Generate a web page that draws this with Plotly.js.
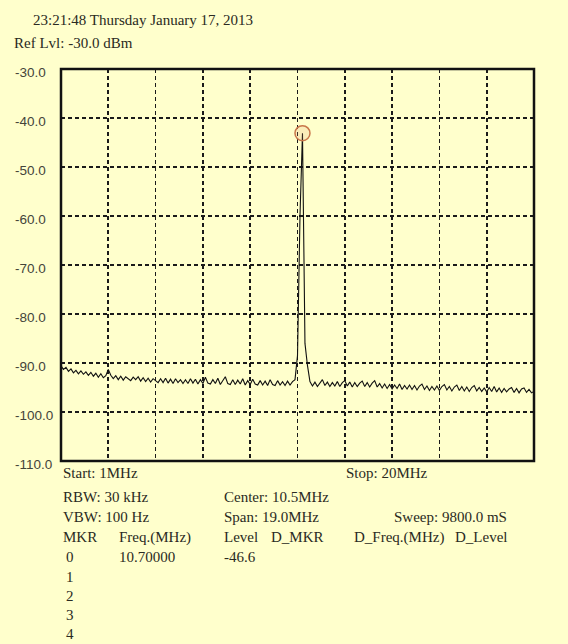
<!DOCTYPE html>
<html>
<head>
<meta charset="utf-8">
<script src="https://cdn.plot.ly/plotly-3.0.1.min.js"></script>
<style>
  html, body { margin: 0; padding: 0; background: #FFFFCC; }
  #chart { width: 568px; height: 644px; }
</style>
</head>
<body>
<div id="chart"></div>
<script>
// ---------- DATA ----------
const freqMHz = [
  1.0,1.1,1.2,1.3,1.4,1.5,1.6,1.7,1.8,1.9,
  2.0,2.1,2.2,2.3,2.4,2.5,2.6,2.7,2.8,2.9,
  3.0,3.1,3.2,3.3,3.4,3.5,3.6,3.7,3.8,3.9,
  4.0,4.1,4.2,4.3,4.4,4.5,4.6,4.7,4.8,4.9,
  5.0,5.1,5.2,5.3,5.4,5.5,5.6,5.7,5.8,5.9,
  6.0,6.1,6.2,6.3,6.4,6.5,6.6,6.7,6.8,6.9,
  7.0,7.1,7.2,7.3,7.4,7.5,7.6,7.7,7.8,7.9,
  8.0,8.1,8.2,8.3,8.4,8.5,8.6,8.7,8.8,8.9,
  9.0,9.1,9.2,9.3,9.4,9.5,9.6,9.7,9.8,9.9,
  10.0,10.1,10.2,10.3,10.4,10.5,10.6,10.7,10.8,10.9,
  11.0,11.1,11.2,11.3,11.4,11.5,11.6,11.7,11.8,11.9,
  12.0,12.1,12.2,12.3,12.4,12.5,12.6,12.7,12.8,12.9,
  13.0,13.1,13.2,13.3,13.4,13.5,13.6,13.7,13.8,13.9,
  14.0,14.1,14.2,14.3,14.4,14.5,14.6,14.7,14.8,14.9,
  15.0,15.1,15.2,15.3,15.4,15.5,15.6,15.7,15.8,15.9,
  16.0,16.1,16.2,16.3,16.4,16.5,16.6,16.7,16.8,16.9,
  17.0,17.1,17.2,17.3,17.4,17.5,17.6,17.7,17.8,17.9,
  18.0,18.1,18.2,18.3,18.4,18.5,18.6,18.7,18.8,18.9,
  19.0,19.1,19.2,19.3,19.4,19.5,19.6,19.7,19.8,19.9,
  20.0
];
const levelDBm = [
  -90.6,-91.3,-90.9,-91.7,-91.2,-92.0,-91.5,-92.2,-91.6,-92.3,
  -91.8,-92.5,-91.9,-92.7,-92.1,-92.9,-92.2,-93.0,-92.6,-91.3,
  -92.5,-93.2,-92.6,-93.4,-92.7,-93.5,-92.8,-93.3,-93.6,-92.9,
  -93.4,-92.8,-93.7,-93.0,-93.8,-93.1,-93.9,-93.2,-93.6,-94.0,
  -93.2,-94.0,-93.1,-94.1,-93.3,-94.2,-93.2,-94.0,-93.4,-94.2,
  -93.4,-94.2,-93.2,-94.1,-93.3,-94.3,-93.4,-94.2,-92.9,-94.1,
  -94.3,-93.4,-94.2,-93.1,-94.4,-93.5,-92.8,-94.2,-94.4,-93.4,
  -94.4,-93.5,-94.3,-93.2,-94.5,-93.6,-94.4,-93.3,-94.3,-94.5,
  -93.6,-94.5,-93.7,-94.6,-93.4,-94.4,-94.6,-93.6,-94.5,-93.8,
  -94.6,-93.7,-94.5,-93.8,-93.4,-88.5,-60.0,-43.1,-86.0,-90.5,
  -93.8,-94.7,-93.9,-94.8,-94.0,-93.4,-94.6,-93.9,-94.8,-94.0,
  -94.7,-93.8,-94.8,-94.0,-93.6,-94.7,-93.9,-94.9,-94.0,-94.8,
  -94.1,-93.7,-94.8,-94.0,-94.9,-94.1,-93.6,-94.9,-94.2,-95.1,
  -94.3,-95.2,-94.4,-95.3,-94.5,-95.2,-94.3,-95.4,-94.6,-95.3,
  -94.5,-95.4,-94.6,-95.5,-94.7,-94.3,-95.4,-94.7,-95.6,-94.8,
  -95.5,-94.7,-95.6,-94.8,-94.4,-95.5,-94.8,-95.7,-94.9,-94.5,
  -95.6,-94.8,-95.7,-94.9,-95.8,-95.0,-94.6,-95.7,-95.0,-95.8,
  -95.1,-95.9,-95.0,-95.8,-94.8,-95.9,-95.1,-96.0,-95.2,-95.9,
  -95.3,-95.0,-96.0,-95.2,-96.1,-95.3,-95.1,-96.0,-95.4,-96.1,
  -95.8
];
const markerFreq = [10.7];
const markerLevel = [-43.1];

const yTickVals = [-30, -40, -50, -60, -70, -80, -90, -100, -110];
const yTickText = ["-30.0", "-40.0", "-50.0", "-60.0", "-70.0", "-80.0", "-90.0", "-100.0", "-110.0"];
const xGridVals = [2.9, 4.8, 6.7, 8.6, 10.5, 12.4, 14.3, 16.2, 18.1];

const headerText = "23:21:48 Thursday January 17, 2013";
const refText = "Ref Lvl: -30.0 dBm";
const infoItems = [
  ["Start: 1MHz", 62, 473],
  ["Stop: 20MHz", 345, 473],
  ["RBW: 30 kHz", 62, 497],
  ["Center: 10.5MHz", 223, 497],
  ["VBW: 100 Hz", 62, 517],
  ["Span: 19.0MHz", 223, 517],
  ["Sweep: 9800.0 mS", 393, 517],
  ["MKR", 62, 537],
  ["Freq.(MHz)", 118, 537],
  ["Level", 223, 537],
  ["D_MKR", 270, 537],
  ["D_Freq.(MHz)", 353, 537],
  ["D_Level", 454, 537],
  ["0", 65, 557],
  ["10.70000", 118, 557],
  ["-46.6", 223, 557],
  ["1", 65, 577],
  ["2", 65, 596],
  ["3", 65, 615],
  ["4", 65, 634]
];

// ---------- LAYOUT ----------
const L = 61, R = 534, T = 69, B = 461;
const W = 568, H = 644;
const px = x => (x - L) / (R - L);
const py = y => (B - y) / (B - T);

const serif = { family: "Liberation Serif, Times New Roman, serif", size: 15, color: "#2a2a22" };
const sans = { family: "Liberation Sans, Arial, sans-serif", size: 13.5, color: "#44443a" };

const annotations = [];
annotations.push({ text: headerText, xref: "paper", yref: "paper", x: px(31), y: py(20),
  xanchor: "left", yanchor: "middle", showarrow: false, font: serif });
annotations.push({ text: refText, xref: "paper", yref: "paper", x: px(12), y: py(43),
  xanchor: "left", yanchor: "middle", showarrow: false, font: serif });
infoItems.forEach(([t, x, y]) => annotations.push({
  text: t, xref: "paper", yref: "paper", x: px(x - 1), y: py(y),
  xanchor: "left", yanchor: "middle", showarrow: false, font: serif }));
yTickVals.forEach((v, i) => annotations.push({
  text: yTickText[i], xref: "paper", yref: "y", x: px(13), y: v, yshift: -3,
  xanchor: "left", yanchor: "middle", showarrow: false, font: sans }));

const traces = [
  { x: freqMHz, y: levelDBm, type: "scatter", mode: "lines",
    line: { color: "#111111", width: 1.1 }, hoverinfo: "skip" },
  { x: markerFreq, y: markerLevel, type: "scatter", mode: "markers",
    marker: { symbol: "circle", size: 15, color: "rgba(230,150,100,0.18)",
      line: { color: "#C8764A", width: 1.5 } }, hoverinfo: "skip" }
];

const layout = {
  width: W, height: H,
  paper_bgcolor: "#FFFFCC", plot_bgcolor: "#FFFFCC",
  margin: { l: L, r: W - R, t: T, b: H - B, pad: 0 },
  showlegend: false,
  xaxis: { range: [1, 20], tickvals: xGridVals, showticklabels: false, ticks: "",
    showgrid: true, gridcolor: "#1a1a1a", gridwidth: 1.7, griddash: "4px,3px",
    zeroline: false, showline: false, fixedrange: true },
  yaxis: { range: [-110, -30], tickvals: [-40, -50, -60, -70, -80, -90, -100],
    showticklabels: false, ticks: "",
    showgrid: true, gridcolor: "#1a1a1a", gridwidth: 1.7, griddash: "4px,3px",
    zeroline: false, showline: false, fixedrange: true },
  shapes: [{ type: "rect", xref: "paper", yref: "paper", x0: 0, x1: 1, y0: 0, y1: 1,
    line: { color: "#111111", width: 2.5 }, fillcolor: "rgba(0,0,0,0)", layer: "above" }],
  annotations: annotations
};

Plotly.newPlot("chart", traces, layout, { displayModeBar: false, staticPlot: true });
</script>
</body>
</html>
